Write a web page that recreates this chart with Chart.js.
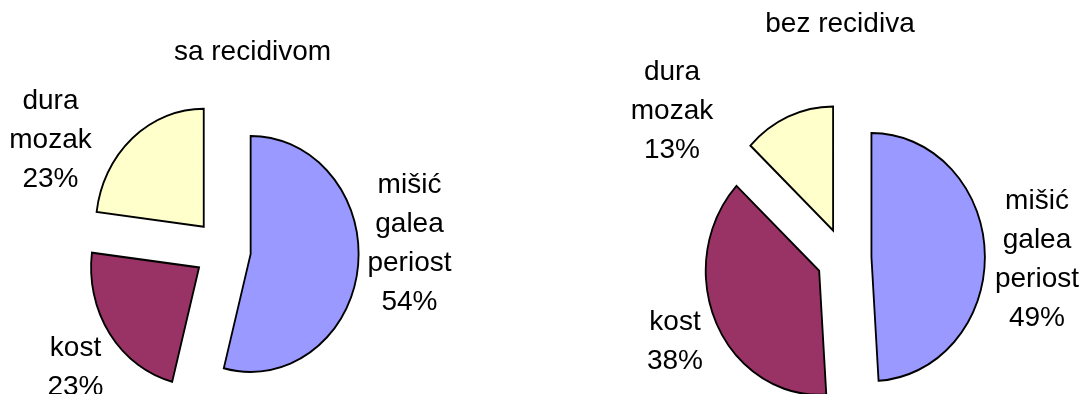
<!DOCTYPE html>
<html>
<head>
<meta charset="utf-8">
<script src="https://cdn.jsdelivr.net/npm/chart.js@4.4.1/dist/chart.umd.min.js"></script>
<style>
  html, body { margin: 0; padding: 0; background: #fff; }
  #wrap { position: relative; width: 1085px; height: 394px; overflow: hidden; }
  canvas { position: absolute; top: 0; }
</style>
</head>
<body>
<div id="wrap">
  <canvas id="pieSa" width="540" height="394" style="left:0"></canvas>
  <canvas id="pieBez" width="540" height="394" style="left:545px"></canvas>
</div>
<script>
// kategorije (višelinijske oznake) i vrijednosti u %
const categories = [['mišić', 'galea', 'periost'], ['kost'], ['dura', 'mozak']];
const titleSa = 'sa recidivom';
const titleBez = 'bez recidiva';
const valuesSa = [54, 23, 23];
const valuesBez = [49, 38, 13];
const sliceColors = ['#9999FF', '#993366', '#FFFFCC'];

const FONT = '28px "Liberation Sans", Arial, sans-serif';

// Isječak koji se odmiče za točno "offset" px (kao Excel), bez povećanja radijusa
class ExplodedArc extends Chart.ArcElement {
  static id = 'explodedArc';
  draw(ctx) {
    const o = this.options;
    const mid = (this.startAngle + this.endAngle) / 2;
    const d = o.offset || 0;
    const x = this.x + Math.cos(mid) * d;
    const y = this.y + Math.sin(mid) * d;
    ctx.save();
    ctx.beginPath();
    ctx.moveTo(x, y);
    ctx.arc(x, y, this.outerRadius, this.startAngle, this.endAngle);
    ctx.closePath();
    ctx.fillStyle = o.backgroundColor;
    ctx.fill();
    if (o.borderWidth) {
      ctx.lineWidth = o.borderWidth;
      ctx.strokeStyle = o.borderColor;
      ctx.lineJoin = o.borderJoinStyle || 'miter';
      ctx.stroke();
    }
    ctx.restore();
  }
}

class ExplodedPie extends Chart.PieController {
  static id = 'explodedPie';
  static defaults = { dataElementType: 'explodedArc' };
}

Chart.register(ExplodedArc, ExplodedPie);

// Excel pita je malo spljoštena vodoravno
const squash = {
  id: 'squash',
  beforeDatasetsDraw(chart, args, opts) {
    const arc = chart.getDatasetMeta(0).data[0];
    const ctx = chart.ctx;
    ctx.save();
    ctx.translate(arc.x, arc.y);
    ctx.scale(opts.sx, 1);
    ctx.translate(-arc.x, -arc.y);
  },
  afterDatasetsDraw(chart) {
    chart.ctx.restore();
  }
};

// naslov + oznake kategorija s postotkom
const pieLabels = {
  id: 'pieLabels',
  afterDraw(chart, args, opts) {
    const ctx = chart.ctx;
    const arc = chart.getDatasetMeta(0).data[0];
    const ds = chart.data.datasets[0];
    ctx.save();
    ctx.font = FONT;
    ctx.fillStyle = '#000';
    ctx.textAlign = 'center';
    ctx.textBaseline = 'middle';
    ctx.fillText(opts.title, arc.x + opts.titleAt[0], arc.y + opts.titleAt[1]);
    chart.data.labels.forEach((lines, i) => {
      const all = lines.concat([ds.data[i] + '%']);
      const [dx, dy] = opts.offsets[i];
      const top = arc.y + dy - (all.length - 1) * opts.lineHeight / 2;
      all.forEach((t, j) => ctx.fillText(t, arc.x + dx, top + j * opts.lineHeight));
    });
    ctx.restore();
  }
};

function makePie(canvasId, values, radius, explode, padding, labelOpts) {
  return new Chart(document.getElementById(canvasId), {
    type: 'explodedPie',
    data: {
      labels: categories,
      datasets: [{
        data: values,
        backgroundColor: sliceColors,
        borderColor: '#000',
        borderWidth: 2,
        borderJoinStyle: 'miter',
        offset: explode,
        hoverOffset: 0,
        clip: false
      }]
    },
    options: {
      responsive: false,
      devicePixelRatio: 1,
      animation: false,
      radius: radius,
      layout: { padding: padding },
      events: [],
      plugins: {
        legend: { display: false },
        tooltip: { enabled: false },
        squash: { sx: 0.915 },
        pieLabels: labelOpts
      }
    },
    plugins: [squash, pieLabels]
  });
}

makePie('pieSa', valuesSa, 118, 31,
  { left: 0, right: 95, top: 106, bottom: 0 },
  {
    title: titleSa,
    titleAt: [30, -198],
    lineHeight: 39,
    offsets: [[187, -6], [-147, 118], [-172, -110]]
  });

makePie('pieBez', valuesBez, 124, 30,
  { left: 58, right: 0, top: 122, bottom: 0 },
  {
    title: titleBez,
    titleAt: [-4, -234],
    lineHeight: 39,
    offsets: [[193, 2], [-169, 84], [-172, -147]]
  });
</script>
</body>
</html>
